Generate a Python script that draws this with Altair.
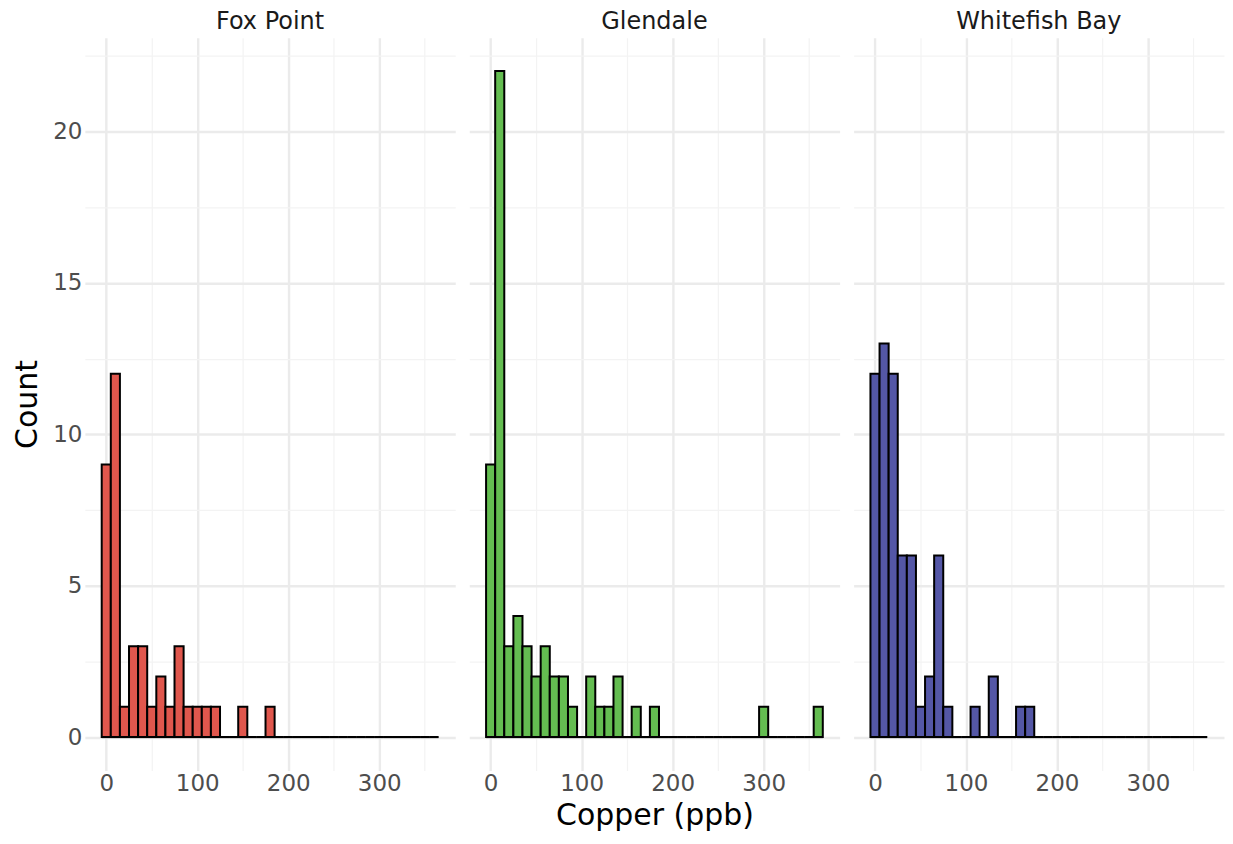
import altair as alt
import pandas as pd

towns = ["Fox Point", "Glendale", "Whitefish Bay"]
bar_colors = ["#E0574D", "#64BD51", "#5457A6"]

bin_centers = [0, 10, 20, 30, 40, 50, 60, 70, 80, 90, 100, 110, 120, 130, 140, 150,
               160, 170, 180, 190, 200, 210, 220, 230, 240, 250, 260, 270, 280, 290,
               300, 310, 320, 330, 340, 350, 360]

fox_point_counts = [9, 12, 1, 3, 3, 1, 2, 1, 3, 1, 1, 1, 1, 0, 0, 1, 0, 0, 1,
                    0, 0, 0, 0, 0, 0, 0, 0, 0, 0, 0, 0, 0, 0, 0, 0, 0, 0]
glendale_counts = [9, 22, 3, 4, 3, 2, 3, 2, 2, 1, 0, 2, 1, 1, 2, 0, 1, 0, 1,
                   0, 0, 0, 0, 0, 0, 0, 0, 0, 0, 0, 1, 0, 0, 0, 0, 0, 1]
whitefish_bay_counts = [12, 13, 12, 6, 6, 1, 2, 6, 1, 0, 0, 1, 0, 2, 0, 0, 1, 1,
                        0, 0, 0, 0, 0, 0, 0, 0, 0, 0, 0, 0, 0, 0, 0, 0, 0, 0, 0]

bin_width = 10
x_ticks = [0, 50, 100, 150, 200, 250, 300, 350]
y_ticks = [0, 2.5, 5, 7.5, 10, 12.5, 15, 17.5, 20, 22.5]

rows = []
for town, counts in zip(towns, [fox_point_counts, glendale_counts, whitefish_bay_counts]):
    for c, n in zip(bin_centers, counts):
        rows.append({"town": town, "x0": c - bin_width / 2, "x1": c + bin_width / 2, "count": n})
df = pd.DataFrame(rows)

FONT = "DejaVu Sans"
xscale = alt.Scale(domain=[-23.5, 383.5], nice=False, zero=False)
yscale = alt.Scale(domain=[-1.1, 23.1], nice=False, zero=False)

grid_w_x = {"condition": {"test": "datum.value % 100 === 0", "value": 2.4}, "value": 1.2}
grid_c_x = {"condition": {"test": "datum.value % 100 === 0", "value": "#EBEBEB"}, "value": "#F3F3F3"}
grid_w_y = {"condition": {"test": "datum.value % 5 === 0", "value": 2.4}, "value": 1.2}
grid_c_y = {"condition": {"test": "datum.value % 5 === 0", "value": "#EBEBEB"}, "value": "#F3F3F3"}


def x_axis(i):
    kw = dict(values=x_ticks, labelExpr="datum.value % 100 === 0 ? datum.label : ''",
              grid=True, gridWidth=grid_w_x, gridColor=grid_c_x, labelOverlap=False,
              domain=False, ticks=False, tickSize=0,
              labelFont=FONT, titleFont=FONT,
              labelFontSize=23, labelColor="#4D4D4D", labelPadding=2,
              titleFontSize=30, titleFontWeight="normal", titleColor="black", titlePadding=5)
    if i == 1:
        return alt.Axis(title="Copper (ppb)", **kw)
    return alt.Axis(title=None, **kw)


def y_axis(i):
    kw = dict(values=y_ticks, grid=True, gridWidth=grid_w_y, gridColor=grid_c_y,
              labelOverlap=False, domain=False, ticks=False, tickSize=0,
              labelFont=FONT, titleFont=FONT)
    if i == 0:
        return alt.Axis(title="Count", labelExpr="datum.value % 5 === 0 ? datum.label : ''",
                        labelFontSize=23, labelColor="#4D4D4D", labelPadding=3,
                        titleFontSize=30, titleFontWeight="normal", titleColor="black",
                        titlePadding=10, **kw)
    return alt.Axis(title=None, labels=False, **kw)


panels = []
for i, town in enumerate(towns):
    base = alt.Chart(df).transform_filter(alt.datum.town == town)
    bars = base.mark_rect(fill=bar_colors[i], stroke="black", strokeWidth=2).encode(
        x=alt.X("x0:Q", scale=xscale, axis=x_axis(i)),
        x2="x1:Q",
        y=alt.Y("count:Q", scale=yscale, axis=y_axis(i)),
        y2=alt.datum(0),
    )
    baseline = base.mark_rule(color="black", strokeWidth=2).encode(
        x=alt.X("x0:Q", scale=xscale),
        x2="x1:Q",
        y=alt.datum(0),
    )
    panels.append(
        alt.layer(bars, baseline).properties(
            width=371, height=734,
            title=alt.TitleParams(town, fontSize=24, font=FONT, fontWeight="normal",
                                  color="#1A1A1A", anchor="middle", offset=4),
        )
    )

chart = (
    alt.hconcat(*panels, spacing=12)
    .properties(padding={"left": 4, "top": 0, "right": 0, "bottom": 0}, background="white")
    .configure_view(stroke="transparent")
    .configure_axis(domain=False, ticks=False, labelFont=FONT, titleFont=FONT)
)

chart.save("out.html", embed_options={"renderer": "svg", "actions": False})
